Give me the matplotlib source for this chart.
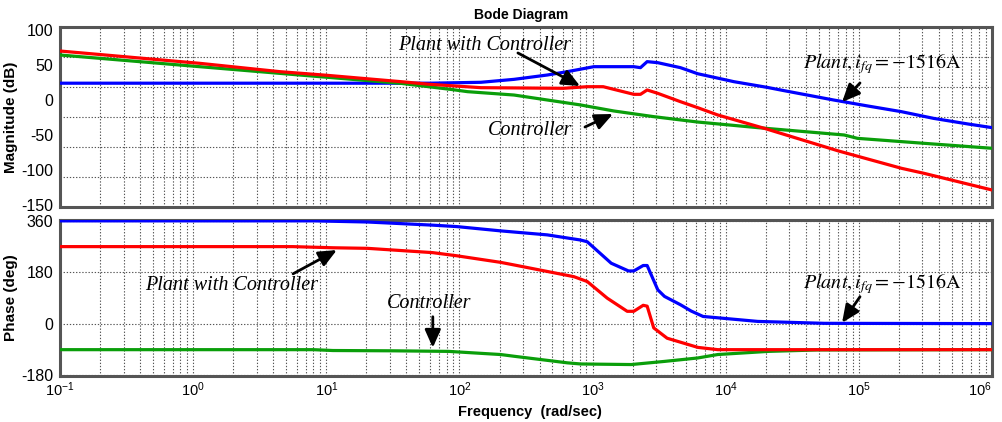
import numpy as np
import matplotlib
matplotlib.use("Agg")
import matplotlib.pyplot as plt
from matplotlib.ticker import FixedLocator, LogLocator, NullFormatter, FixedFormatter

plt.rcParams['font.family'] = ['Liberation Sans', 'DejaVu Sans']
plt.rcParams['mathtext.fontset'] = 'custom'
plt.rcParams['mathtext.rm'] = 'Liberation Sans'
plt.rcParams['mathtext.it'] = 'Liberation Sans:italic'
plt.rcParams['mathtext.bf'] = 'Liberation Sans:bold'
plt.rcParams['axes.unicode_minus'] = False

# ---------------- data (frequency in rad/s) ----------------
# Magnitude (dB)
w_plant_mag = [0.1, 31.6, 60, 145, 257, 457, 646, 1023, 2040, 2290, 2570, 3090,
               4570, 6170, 11500, 20400, 27500, 64600, 117000, 209000, 363000, 661000, 1e6]
mag_plant = [24, 24, 24, 25.3, 29.5, 35.7, 40.5, 47.6, 47.6, 46.2, 54.8, 53.3,
             46.2, 37.5, 26.2, 18.1, 13.3, 0, -8.6, -16.7, -26.2, -34.3, -39.5]

w_loop_mag = [0.1, 1.12, 4.47, 9.8, 36.3, 60, 145, 603, 912, 1202, 2040, 2290, 2570, 3090,
              4570, 6170, 8710, 19500, 70800, 209000, 309000, 1e6]
mag_loop = [70, 52.4, 40.5, 35.5, 26.2, 22.4, 17.6, 16.7, 19, 19, 8.1, 8.1, 14.3, 9.5,
            -2.4, -11, -21.4, -40.5, -73, -97.6, -104.8, -128.6]

w_ctrl_mag = [0.1, 1.12, 6.3, 36.3, 89, 115, 257, 813, 1445, 2880, 6170, 17400,
              77600, 97700, 309000, 1e6]
mag_ctrl = [64.3, 47.6, 35.7, 23.8, 14.8, 11.9, 7.1, -7.1, -15.7, -23.8, -31.5, -39.5,
            -50, -54.8, -61.9, -69]

# Phase (deg)
w_plant_ph = [0.1, 8, 20.4, 63, 95.5, 204, 457, 813, 912, 1380, 1862, 2040, 2400, 2570,
              3090, 3470, 4570, 5500, 6760, 17400, 55000, 1e6]
ph_plant = [360, 360, 356, 345, 340, 325, 311, 293, 287, 212, 185, 185, 204, 204,
            119, 96, 67, 45, 26, 8.7, 2, 1]

w_loop_ph = [0.1, 5.6, 11.2, 20.4, 63, 95.5, 204, 257, 724, 912, 1288, 1820, 2040, 2400,
             2570, 2880, 3630, 6170, 8710, 1e6]
ph_loop = [270, 270, 266, 264, 249, 238, 215, 206, 165, 148, 90, 44, 44, 65,
           62, -14, -50, -82, -90, -90]

w_ctrl_ph = [0.1, 8, 11.2, 31.6, 83, 204, 257, 646, 813, 1950, 3470, 6170, 8710,
             20900, 49000, 1e6]
ph_ctrl = [-90, -90, -93, -94, -96, -107, -113, -136, -140, -142, -131, -119, -107,
           -96, -91, -90]

xticks = [1e-1, 1e0, 1e1, 1e2, 1e3, 1e4, 1e5, 1e6]
xticklabels = [r'$10^{-1}$', r'$10^{0}$', r'$10^{1}$', r'$10^{2}$', r'$10^{3}$',
               r'$10^{4}$', r'$10^{5}$', r'$10^{6}$']
mag_ticks = [-150, -100, -50, 0, 50, 100]
ph_ticks = [-180, 0, 180, 360]

# ---------------- figure ----------------
fig = plt.figure(figsize=(10.02, 4.22), dpi=100)
W, H = 1002, 422
L, R = 60, 992
ax1 = fig.add_axes([L / W, 1 - 207 / H, (R - L) / W, 180 / H])
ax2 = fig.add_axes([L / W, 1 - 376 / H, (R - L) / W, 156 / H])

BLUE, RED, GREEN = '#0000ff', '#ff0000', '#0a9e0a'
LW = 2.3

ax1.plot(w_plant_mag, mag_plant, color=BLUE, lw=LW, zorder=3)
ax1.plot(w_ctrl_mag, mag_ctrl, color=GREEN, lw=LW, zorder=3)
ax1.plot(w_loop_mag, mag_loop, color=RED, lw=LW, zorder=3)

ax2.plot(w_plant_ph, ph_plant, color=BLUE, lw=LW, zorder=3)
ax2.plot(w_ctrl_ph, ph_ctrl, color=GREEN, lw=LW, zorder=3)
ax2.plot(w_loop_ph, ph_loop, color=RED, lw=LW, zorder=3)

grid_kw = dict(color='#555555', linestyle=(0, (1.2, 1.6)), linewidth=0.8)
mag_lim = (-152.9, 104.3)
ph_lim = (-182, 363)

for ax in (ax1, ax2):
    ax.set_xscale('log')
    ax.set_xlim(1e-1, 1e6)
    ax.xaxis.set_major_locator(FixedLocator(xticks))
    ax.xaxis.set_minor_locator(LogLocator(base=10, subs=np.arange(2, 10), numticks=100))
    ax.xaxis.set_minor_formatter(NullFormatter())
    ax.grid(True, which='major', axis='x', **grid_kw)
    ax.grid(True, which='minor', axis='x', **grid_kw)
    for s in ax.spines.values():
        s.set_color('#555555')
        s.set_linewidth(2.2)
    ax.tick_params(which='both', direction='in', length=0, labelsize=11.5, pad=5)
    ax.set_axisbelow(True)

# magnitude axes
ax1.set_ylim(*mag_lim)
ax1.set_yticks(mag_ticks)
ax1.yaxis.set_minor_locator(FixedLocator(np.linspace(mag_lim[0], mag_lim[1], 7)[1:-1]))
ax1.grid(True, which='minor', axis='y', **grid_kw)
ax1.set_xticklabels([])
ax1.set_ylabel('Magnitude (dB)', fontsize=11, fontweight='bold')
ax1.yaxis.set_label_coords(-0.045, 0.5)

# phase axes
ax2.set_ylim(*ph_lim)
ax2.set_yticks(ph_ticks)
ax2.grid(True, which='major', axis='y', **grid_kw)
ax2.xaxis.set_major_formatter(FixedFormatter(xticklabels))
ax2.tick_params(axis='x', pad=3, labelsize=10.5)
ax2.set_ylabel('Phase (deg)', fontsize=11, fontweight='bold')
ax2.yaxis.set_label_coords(-0.045, 0.5)
# keep the last tick label inside the figure
ax2.get_xticklabels()[-1].set_horizontalalignment('right')
for lbl in ax2.get_xticklabels()[-1:]:
    lbl.set_x(1e6)

fig.text(530 / W, 1 - 412 / H, 'Frequency  (rad/sec)', fontsize=10.5, fontweight='bold',
         ha='center', va='center')
fig.text(521 / W, 1 - 15 / H, 'Bode Diagram', fontsize=10, fontweight='bold',
         ha='center', va='center')

# ---------------- annotations ----------------
serif_it = dict(family='Liberation Serif', style='italic', fontsize=14.5)
arrow = dict(arrowstyle='-|>,head_length=0.9,head_width=0.4', color='black', lw=2,
             shrinkA=0, shrinkB=0, mutation_scale=12)
plant_label = r'$\mathit{Plant}, i_{fq} = -1516\mathrm{A}$'

# magnitude
ax1.text(34.6, 71.4, 'Plant with Controller', ha='left', va='baseline', **serif_it)
ax1.annotate('', xy=(805, 20.0), xytext=(275, 67.2), arrowprops=arrow)
ax1.text(164, -50, 'Controller', ha='left', va='baseline', **serif_it)
ax1.annotate('', xy=(1422, -20), xytext=(877, -38.6), arrowprops=arrow)
ax1.text(38000, 45.7, plant_label, ha='left', va='baseline', fontsize=14.5,
         math_fontfamily='stix')
ax1.annotate('', xy=(74800, -2.9), xytext=(102000, 24.3), arrowprops=arrow)

# phase
ax2.text(0.435, 119, 'Plant with Controller', ha='left', va='baseline', **serif_it)
ax2.annotate('', xy=(12.0, 258), xytext=(5.63, 175), arrowprops=arrow)
ax2.text(28.6, 57, 'Controller', ha='left', va='baseline', **serif_it)
ax2.annotate('', xy=(63.1, -83), xytext=(63.1, 25), arrowprops=arrow)
ax2.text(38000, 126, plant_label, ha='left', va='baseline', fontsize=14.5,
         math_fontfamily='stix')
ax2.annotate('', xy=(74800, 4), xytext=(102000, 95), arrowprops=arrow)

fig.savefig('out.png', dpi=100)
